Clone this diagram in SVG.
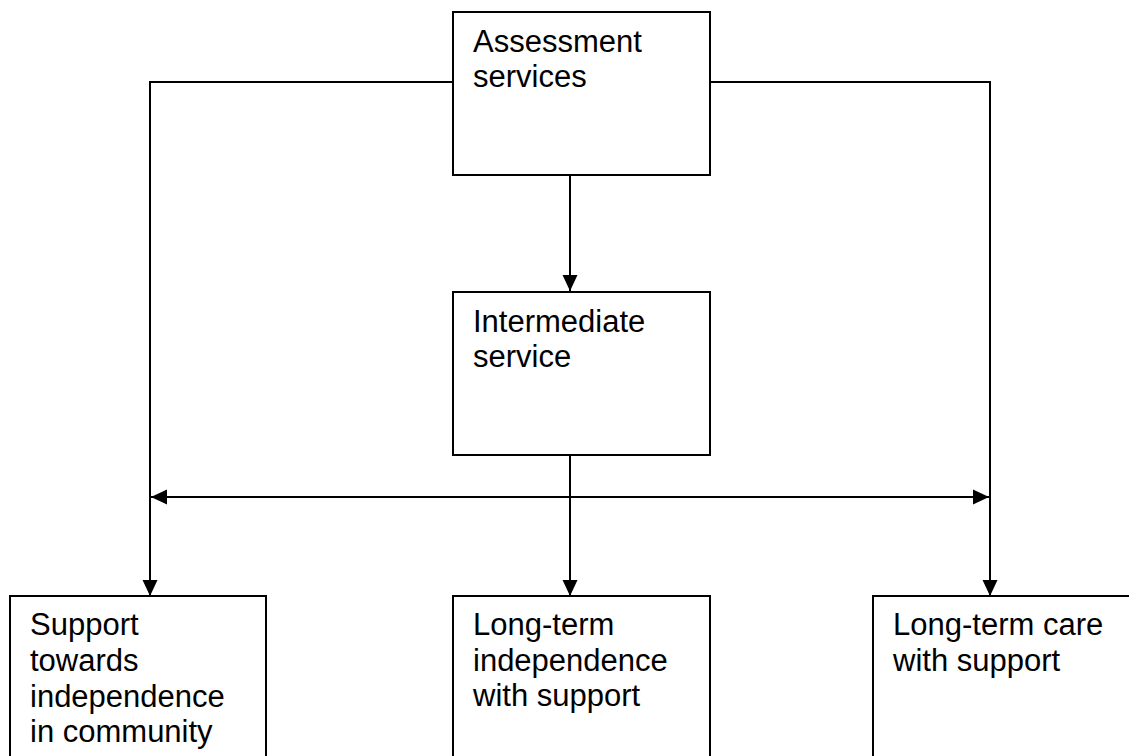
<svg xmlns="http://www.w3.org/2000/svg" width="1129" height="756" viewBox="0 0 1129 756">
<style>
.box{fill:#fff;stroke:#000;stroke-width:2}
.lbl{font-family:"Liberation Sans",Arial,sans-serif;font-size:31px;fill:#000}
.ln{fill:none;stroke:#000;stroke-width:2}
</style>
<defs>
<marker id="ah" markerUnits="userSpaceOnUse" markerWidth="16" markerHeight="16" viewBox="0 0 16 16" refX="16" refY="8" orient="auto-start-reverse">
<path d="M0,0.5 L16,8 L0,15.5 Z" fill="#000"/>
</marker>
</defs>
<rect width="1129" height="756" fill="#fff"/>
<g id="connectors">
<path class="ln" d="M453,82 H150 V596" marker-end="url(#ah)"/>
<path class="ln" d="M710,82 H990 V596" marker-end="url(#ah)"/>
<path class="ln" d="M570,175 V291" marker-end="url(#ah)"/>
<path class="ln" d="M570,455 V596" marker-end="url(#ah)"/>
<path class="ln" d="M151,497 H989" marker-start="url(#ah)" marker-end="url(#ah)"/>
</g>
<g id="assessment">
<rect class="box" x="453" y="12" width="257" height="163"/>
<text class="lbl" x="473" y="52">Assessment</text>
<text class="lbl" x="473" y="87">services</text>
</g>
<g id="intermediate">
<rect class="box" x="453" y="292" width="257" height="163"/>
<text class="lbl" x="473" y="332">Intermediate</text>
<text class="lbl" x="473" y="367">service</text>
</g>
<g id="support">
<rect class="box" x="10" y="596" width="256" height="170"/>
<text class="lbl" x="30" y="635">Support</text>
<text class="lbl" x="30" y="671">towards</text>
<text class="lbl" x="30" y="707">independence</text>
<text class="lbl" x="30" y="742">in community</text>
</g>
<g id="longterm-independence">
<rect class="box" x="453" y="596" width="257" height="170"/>
<text class="lbl" x="473" y="635">Long-term</text>
<text class="lbl" x="473" y="671">independence</text>
<text class="lbl" x="473" y="706">with support</text>
</g>
<g id="longterm-care">
<rect class="box" x="873" y="596" width="257" height="170"/>
<text class="lbl" x="893" y="635">Long-term care</text>
<text class="lbl" x="893" y="671">with support</text>
</g>
</svg>
